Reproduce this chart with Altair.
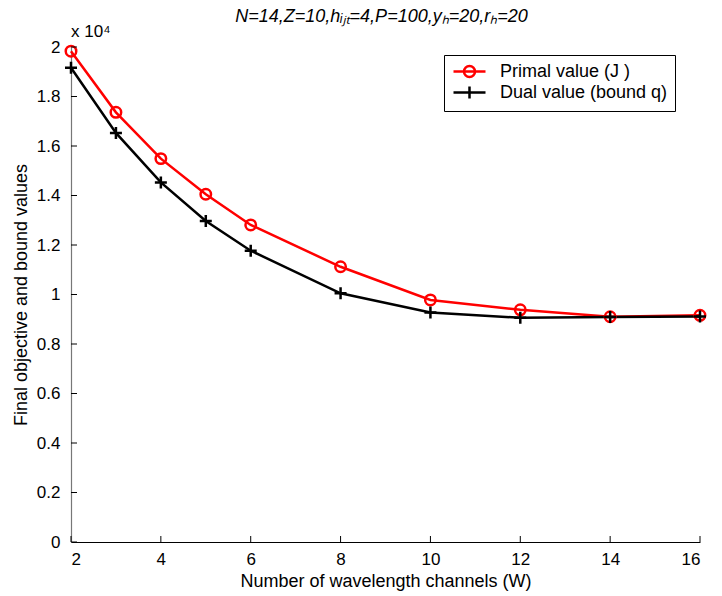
import altair as alt
import pandas as pd

W = [2, 3, 4, 5, 6, 8, 10, 12, 14, 16]
primal = [19830, 17360, 15490, 14050, 12810, 11120, 9780, 9380, 9100, 9160]
dual = [19160, 16530, 14530, 12970, 11770, 10050, 9270, 9060, 9090, 9110]
series_names = ["Primal value (J )", "Dual value (bound q)"]
series_colors = ["#ff0000", "#000000"]
x_ticks = [2, 4, 6, 8, 10, 12, 14, 16]
y_ticks = [0, 2000, 4000, 6000, 8000, 10000, 12000, 14000, 16000, 18000, 20000]
title_text = "N=14,Z=10,hᵢⱼₜ=4,P=100,yₕ=20,rₕ=20"

FONT = "Liberation Sans"
PW, PH = 629, 495

rows = []
for w, p, d in zip(W, primal, dual):
    rows.append({"W": w, "value": p, "series": series_names[0]})
    rows.append({"W": w, "value": d, "series": series_names[1]})
df = pd.DataFrame(rows)

xscale = alt.Scale(domain=[2, 16], nice=False, zero=False)
yscale = alt.Scale(domain=[0, 20000], nice=False)
cscale = alt.Scale(domain=series_names, range=series_colors)

legend_paths = [
    "M-2,0H2M-0.69,0A0.69,0.69 0 1,0 0.69,0A0.69,0.69 0 1,0 -0.69,0",
    "M-2,0H2M0,-0.75V0.75",
]

base = alt.Chart(df)
prim = base.transform_filter(alt.datum.series == series_names[0])
dua = base.transform_filter(alt.datum.series == series_names[1])

xenc = alt.X("W:Q", scale=xscale,
             axis=alt.Axis(values=x_ticks, title="Number of wavelength channels (W)",
                           grid=False, ticks=False, labelPadding=9, titlePadding=5,
                           domainColor="#000000", domainWidth=1.2))
yenc = alt.Y("value:Q", scale=yscale,
             axis=alt.Axis(values=y_ticks, title="Final objective and bound values",
                           labelExpr="format(datum.value/10000, '~g')",
                           grid=False, ticks=False, labelPadding=11, titlePadding=6,
                           domainColor="#777777", domainWidth=1.2))

line_p = prim.mark_line(strokeWidth=2.5, color="#ff0000").encode(x=xenc, y=yenc)
line_d = dua.mark_line(strokeWidth=2.5, color="#000000").encode(x="W:Q", y="value:Q")

circles = prim.mark_point(
    shape="circle", filled=False, size=110, strokeWidth=2.5, color="#ff0000", opacity=1
).encode(x="W:Q", y="value:Q")

pluses = dua.mark_point(
    shape="M-1,0H1M0,-1V1", filled=False, size=144, strokeWidth=2.5, color="#000000", opacity=1
).encode(x="W:Q", y="value:Q")

leg = alt.Legend(title=None, orient="none", legendX=373, legendY=8,
                 symbolSize=256, symbolStrokeWidth=2.5, symbolOffset=9,
                 symbolOpacity=1, labelFontSize=18, labelFont=FONT,
                 labelColor="#000000", labelOffset=21, labelLimit=400,
                 strokeColor="#000000", fillColor="#ffffff",
                 padding=7, rowPadding=-3)

legend_layer = base.mark_point(filled=False, opacity=0).encode(
    x="W:Q", y="value:Q",
    color=alt.Color("series:N", scale=cscale, legend=leg),
    shape=alt.Shape("series:N", scale=alt.Scale(domain=series_names, range=legend_paths),
                    legend=leg),
)

ytick_df = pd.DataFrame({"value": y_ticks})
xtick_df = pd.DataFrame({"W": x_ticks})

yticks = alt.Chart(ytick_df).mark_rule(color="#000000", strokeWidth=1).encode(
    y="value:Q", x=alt.value(0), x2=alt.value(6)
)
xticks = alt.Chart(xtick_df).mark_rule(color="#000000", strokeWidth=1).encode(
    x="W:Q", y=alt.value(PH), y2=alt.value(PH - 6)
)

exp_label = alt.Chart(pd.DataFrame({"t": ["x 10⁴"]})).mark_text(
    align="left", baseline="middle", fontSize=17, font=FONT, color="#000000"
).encode(x=alt.value(0), y=alt.value(-15), text="t:N")

title_label = alt.Chart(pd.DataFrame({"t": [title_text]})).mark_text(
    align="center", baseline="middle", fontSize=18, font=FONT, fontStyle="italic",
    color="#000000"
).encode(x=alt.value(PW / 2 - 4), y=alt.value(-30), text="t:N")

chart = alt.layer(line_p, line_d, circles, pluses, legend_layer, yticks, xticks,
                  exp_label, title_label).properties(
    width=PW, height=PH,
    autosize=alt.AutoSizeParams(type="none"),
    padding={"left": 71, "top": 47, "right": 22, "bottom": 54},
).configure(background="#ffffff").configure_view(stroke=None).configure_axis(
    labelFont=FONT, titleFont=FONT, labelFontSize=17, titleFontSize=18,
    labelColor="#000000", titleColor="#000000", titleFontWeight="normal"
)

chart.save("out.html", embed_options={"renderer": "svg", "actions": False})
